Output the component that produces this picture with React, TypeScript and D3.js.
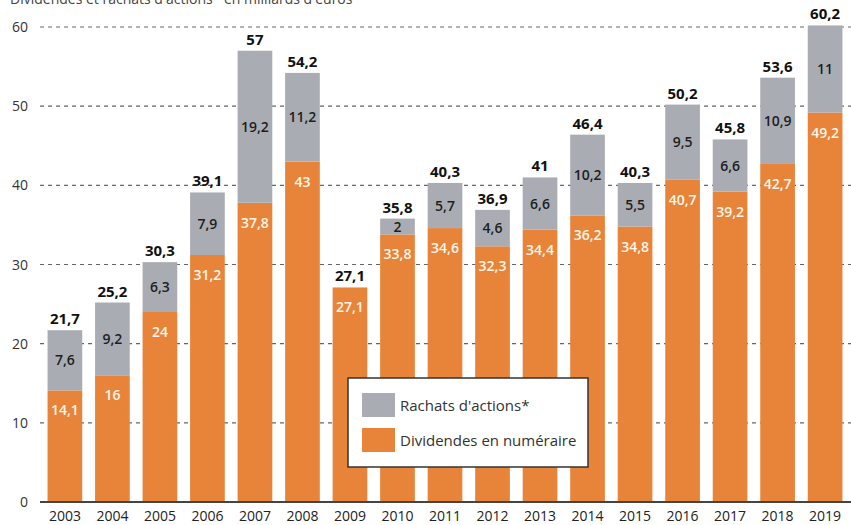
import React from "react";
import * as d3 from "d3";

const years = ["2003", "2004", "2005", "2006", "2007", "2008", "2009", "2010", "2011", "2012", "2013", "2014", "2015", "2016", "2017", "2018", "2019"];
const dividendes = [14.1, 16, 24, 31.2, 37.8, 43, 27.1, 33.8, 34.6, 32.3, 34.4, 36.2, 34.8, 40.7, 39.2, 42.7, 49.2];
const rachats = [7.6, 9.2, 6.3, 7.9, 19.2, 11.2, 0, 2, 5.7, 4.6, 6.6, 10.2, 5.5, 9.5, 6.6, 10.9, 11];
const totals = [21.7, 25.2, 30.3, 39.1, 57, 54.2, 27.1, 35.8, 40.3, 36.9, 41, 46.4, 40.3, 50.2, 45.8, 53.6, 60.2];
const yTicks = [0, 10, 20, 30, 40, 50, 60];

const ORANGE = "#E8843A";
const GRAY = "#A9ADB3";
const FONT = "'Open Sans', 'DejaVu Sans', sans-serif";

const fmt = (v: number) => String(v).replace(".", ",");

export default function App() {
  const width = 851;
  const height = 525;
  const x = d3.scaleBand().domain(years).range([39, 851]).paddingInner(0.27).paddingOuter(0.18);
  const y = d3.scaleLinear().domain([0, 60]).range([502, 27]);

  return (
    <svg width={width} height={height} style={{ position: "absolute", left: 0, top: 0, background: "#fff" }} fontFamily={FONT}>
      <text x={10} y={4} fontSize={14} fill="#444">Dividendes et rachats d'actions* en milliards d'euros</text>

      {/* grid */}
      {yTicks.map((t) => (
        <g key={t}>
          {t > 0 && (
            <line x1={40} x2={851} y1={y(t)} y2={y(t)} stroke="#666" strokeWidth={1.2} strokeDasharray="4,4" />
          )}
          <text x={28} y={y(t) + 5} textAnchor="end" fontSize={14} fill="#333">{t}</text>
        </g>
      ))}

      {/* bars */}
      {years.map((yr, i) => {
        const bx = x(yr)!;
        const bw = x.bandwidth();
        const cx = bx + bw / 2;
        const dTop = y(dividendes[i]);
        const rTop = y(dividendes[i] + rachats[i]);
        return (
          <g key={yr}>
            <rect x={bx} y={dTop} width={bw} height={y(0) - dTop} fill={ORANGE} />
            {rachats[i] > 0 && <rect x={bx} y={rTop} width={bw} height={dTop - rTop} fill={GRAY} />}
            <text x={cx} y={dTop + 25} textAnchor="middle" fontSize={14} fontWeight={600} fill="#FFF6E8">{fmt(dividendes[i])}</text>
            {rachats[i] > 0 && (
              <text x={cx} y={(rTop + dTop) / 2 + 5} textAnchor="middle" fontSize={14} fontWeight={600} fill="#1E1E1E">{fmt(rachats[i])}</text>
            )}
            <text x={cx} y={rTop - 6} textAnchor="middle" fontSize={15} fontWeight="bold" fill="#111">{fmt(totals[i])}</text>
            <text x={cx} y={521} textAnchor="middle" fontSize={14} fill="#222">{yr}</text>
          </g>
        );
      })}

      <line x1={40} x2={851} y1={y(0)} y2={y(0)} stroke="#444" strokeWidth={2} />

      {/* legend */}
      <g>
        <rect x={348} y={378} width={240} height={89} fill="#fff" stroke="#333" strokeWidth={1.5} />
        <rect x={362} y={393} width={33} height={24} fill={GRAY} />
        <text x={400} y={411} fontSize={15} fill="#333">Rachats d'actions*</text>
        <rect x={362} y={428} width={33} height={24} fill={ORANGE} />
        <text x={400} y={446} fontSize={15} fill="#333">Dividendes en numéraire</text>
      </g>
    </svg>
  );
}
